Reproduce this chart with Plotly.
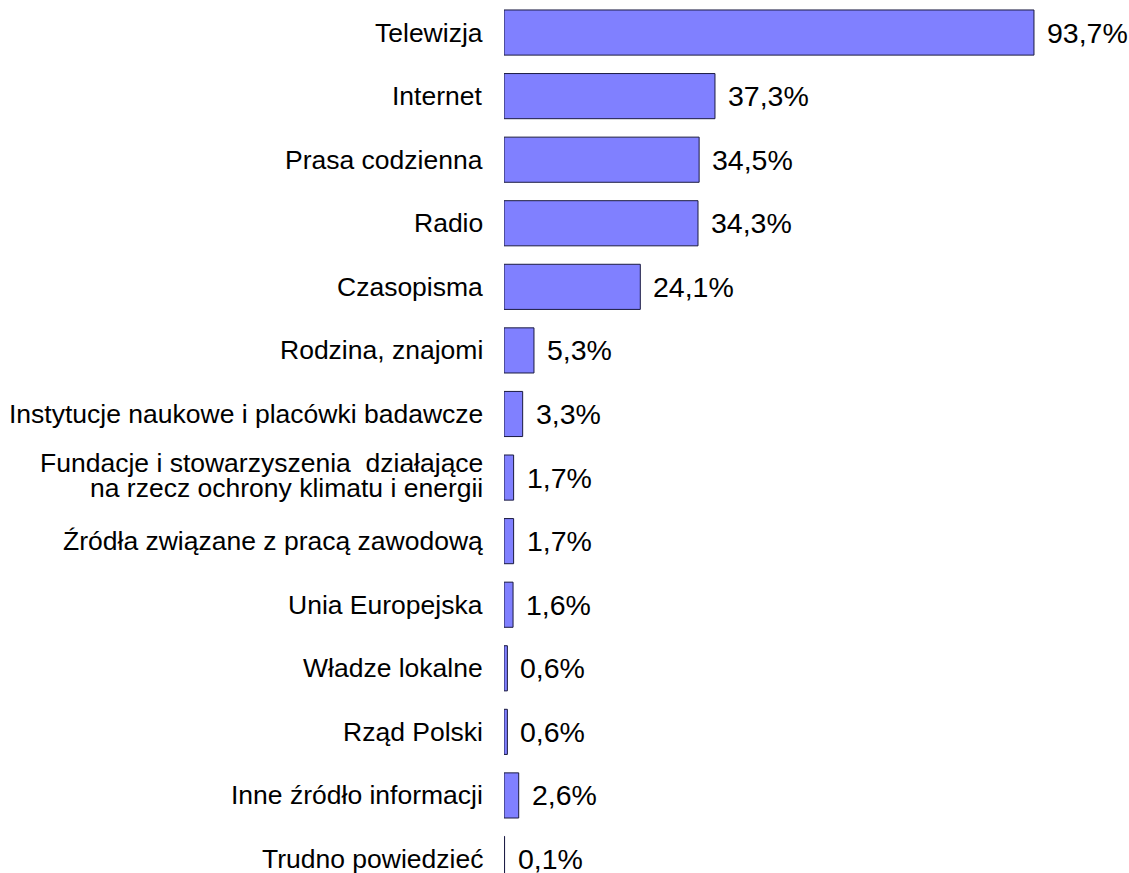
import plotly.graph_objects as go

categories = [
    "Telewizja",
    "Internet",
    "Prasa codzienna",
    "Radio",
    "Czasopisma",
    "Rodzina, znajomi",
    "Instytucje naukowe i placówki badawcze",
    "Fundacje i stowarzyszenia  działające<br>na rzecz ochrony klimatu i energii",
    "Źródła związane z pracą zawodową",
    "Unia Europejska",
    "Władze lokalne",
    "Rząd Polski",
    "Inne źródło informacji",
    "Trudno powiedzieć",
]
values = [93.7, 37.3, 34.5, 34.3, 24.1, 5.3, 3.3, 1.7, 1.7, 1.6, 0.6, 0.6, 2.6, 0.1]
value_labels = [f"{v:.1f}%".replace(".", ",") for v in values]

idx = list(range(len(categories)))
FONT = "Liberation Sans, Arial, sans-serif"
LABEL_SIZE = 26.5
VALUE_SIZE = 28.5

fig = go.Figure()
fig.add_trace(go.Bar(
    x=values,
    y=idx,
    orientation="h",
    marker=dict(color="#8080FF", line=dict(color="#1a1a40", width=1)),
    width=0.71,
    hoverinfo="skip",
))

for i, v, lab in zip(idx, values, value_labels):
    fig.add_annotation(
        x=v, y=i, text=lab, showarrow=False,
        xanchor="left", yanchor="middle", xshift=11,
        font=dict(family=FONT, size=VALUE_SIZE, color="black"),
    )

# category labels (multi-line ones with tight line spacing, as in the original)
for i, c in zip(idx, categories):
    lines = c.split("<br>")
    n = len(lines)
    for k, line in enumerate(lines):
        fig.add_annotation(
            x=0, y=i, xref="x", yref="y", text=line, showarrow=False,
            xanchor="right", yanchor="middle", xshift=-19,
            yshift=(2 + (n - 1) * 12.5 - k * 25) if n > 1 else 0,
            font=dict(family=FONT, size=LABEL_SIZE, color="black"),
        )

fig.update_layout(
    width=1129, height=873,
    margin=dict(l=504, r=0, t=0, b=0),
    paper_bgcolor="white",
    plot_bgcolor="white",
    showlegend=False,
    hovermode=False,
    font=dict(family=FONT, size=LABEL_SIZE, color="black"),
)
fig.update_xaxes(range=[0, 110.5], visible=False, showgrid=False, zeroline=False)
fig.update_yaxes(
    range=[13.22, -0.512], showgrid=False, zeroline=False, showline=False,
    ticks="", showticklabels=False, automargin=False,
)

fig.write_html(
    "out.html",
    config={"displayModeBar": False, "staticPlot": True},
    post_script="document.body.style.margin='0px';document.body.style.overflow='hidden';",
)
